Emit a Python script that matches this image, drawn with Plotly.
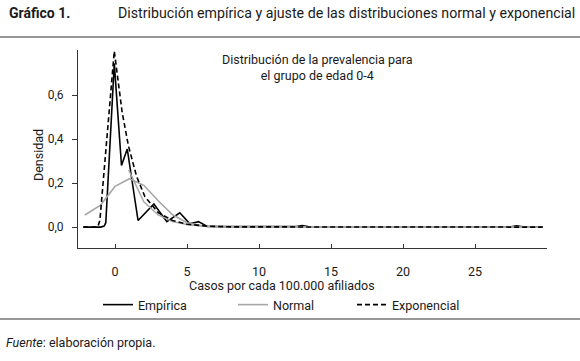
import plotly.graph_objects as go

# ---- data ----
emp_x = [-2.2, -1.0, -0.75, -0.64, -0.05, 0.45, 0.85, 1.6, 2.7, 3.6, 4.5, 5.2, 5.8, 6.4, 8.0, 12.6, 13.0, 13.4, 20.0, 27.5, 27.9, 28.3, 29.7]
emp_y = [0.0, 0.0, 0.005, 0.02, 0.744, 0.28, 0.355, 0.03, 0.105, 0.025, 0.065, 0.015, 0.025, 0.003, 0.002, 0.002, 0.007, 0.002, 0.001, 0.001, 0.006, 0.001, 0.001]

norm_x = [-2.1, -1.0, 0.0, 1.0, 2.0, 3.0, 4.0, 5.0, 6.0, 7.0, 8.0, 29.7]
norm_y = [0.055, 0.10, 0.185, 0.22, 0.19, 0.12, 0.056, 0.02, 0.006, 0.002, 0.001, 0.0]

tail_x = [0.95, 2.0, 3.0, 4.0, 5.0, 6.0, 7.0, 29.7]
tail_y = [0.26, 0.115, 0.055, 0.025, 0.012, 0.005, 0.002, 0.0]

exp_x = [-2.2, -1.2, -1.05, -0.05, 0.5, 0.93, 1.5, 2.08, 3.0, 4.0, 5.0, 6.5, 8.0, 29.7]
exp_y = [0.0, 0.0, 0.03, 0.80, 0.52, 0.37, 0.23, 0.138, 0.066, 0.03, 0.013, 0.004, 0.001, 0.0]

x_ticks = [0, 5, 10, 15, 20, 25, 30]
x_ticktext = ["0", "5", "10", "15", "20", "25", ""]
y_ticks = [0.0, 0.2, 0.4, 0.6]
y_ticktext = ["0,0", "0,2", "0,4", "0,6"]

# ---- layout geometry (pixels) ----
WIDTH, HEIGHT = 580, 361
L, R, T, B = 78, 547, 50, 248
PW, PH = R - L, B - T


def px(x):
    return (x - L) / PW


def py(y):
    return (B - y) / PH


FONT = "Roboto, sans-serif"
TXT = "#1a1a1a"

fig = go.Figure()
fig.add_trace(go.Scatter(x=emp_x, y=emp_y, mode="lines", name="Empírica", legend="legend",
                         line=dict(color="#000000", width=1.6)))
fig.add_trace(go.Scatter(x=norm_x, y=norm_y, mode="lines", name="Normal", legend="legend2",
                         line=dict(color="#a6a6a6", width=1.6)))
fig.add_trace(go.Scatter(x=tail_x, y=tail_y, mode="lines", showlegend=False,
                         line=dict(color="#a6a6a6", width=1.4), hoverinfo="skip"))
fig.add_trace(go.Scatter(x=exp_x, y=exp_y, mode="lines", name="Exponencial", legend="legend3",
                         line=dict(color="#000000", width=1.6, dash="5px,3px")))


def leg(xpix):
    return dict(orientation="h", x=px(xpix), y=py(305), xanchor="left", yanchor="middle",
                font=dict(size=12.5, color=TXT), bgcolor="rgba(0,0,0,0)", itemwidth=30)


fig.update_layout(
    width=WIDTH, height=HEIGHT,
    margin=dict(l=L, r=WIDTH - R, t=T, b=HEIGHT - B, pad=0, autoexpand=False),
    paper_bgcolor="white", plot_bgcolor="white",
    font=dict(family=FONT, size=12.5, color=TXT),
    showlegend=True,
    legend=leg(98), legend2=leg(233), legend3=leg(352),
    xaxis=dict(range=[-2.57, 30], showgrid=False, zeroline=False, showline=True,
               linecolor="#333333", linewidth=1, ticks="inside", ticklen=4,
               tickcolor="#333333", tickvals=x_ticks, ticktext=x_ticktext,
               ticklabelstandoff=12, automargin=False,
               tickfont=dict(size=12.5, color=TXT)),
    yaxis=dict(range=[-0.095, 0.805], showgrid=False, zeroline=False, showline=True,
               linecolor="#333333", linewidth=1, ticks="outside", ticklen=5,
               tickcolor="#333333", tickvals=y_ticks, ticktext=y_ticktext,
               ticklabelstandoff=6, automargin=False,
               tickfont=dict(size=12, color=TXT)),
)

ann = [
    dict(text="<b>Gráfico 1.</b>", x=px(7), y=py(13), xanchor="left", font=dict(size=14)),
    dict(text="Distribución empírica y ajuste de las distribuciones normal y exponencial",
         x=px(577), y=py(13), xanchor="right", font=dict(size=14.2)),
    dict(text="Distribución de la prevalencia para<br>el grupo de edad 0-4",
         x=px(317), y=py(67), xanchor="center", align="center", font=dict(size=12.5)),
    dict(text="Densidad", x=px(38), y=py(155), textangle=-90, xanchor="center",
         font=dict(size=12.5)),
    dict(text="Casos por cada 100.000 afiliados", x=px(282), y=py(285),
         xanchor="center", font=dict(size=12.5)),
    dict(text="<i>Fuente</i>: elaboración propia.", x=px(4), y=py(342),
         xanchor="left", font=dict(size=12.5)),
]
for a in ann:
    a.update(xref="paper", yref="paper", showarrow=False, yanchor="middle")
    fig.add_annotation(**a)

for yy in (37, 319):
    fig.add_shape(type="line", xref="paper", yref="paper", x0=px(0), x1=px(580),
                  y0=py(yy), y1=py(yy), line=dict(color="#333333", width=1))

fig.write_html("out.html", config={"displayModeBar": False},
               post_script="document.body.style.margin='0';document.body.style.padding='0';")
